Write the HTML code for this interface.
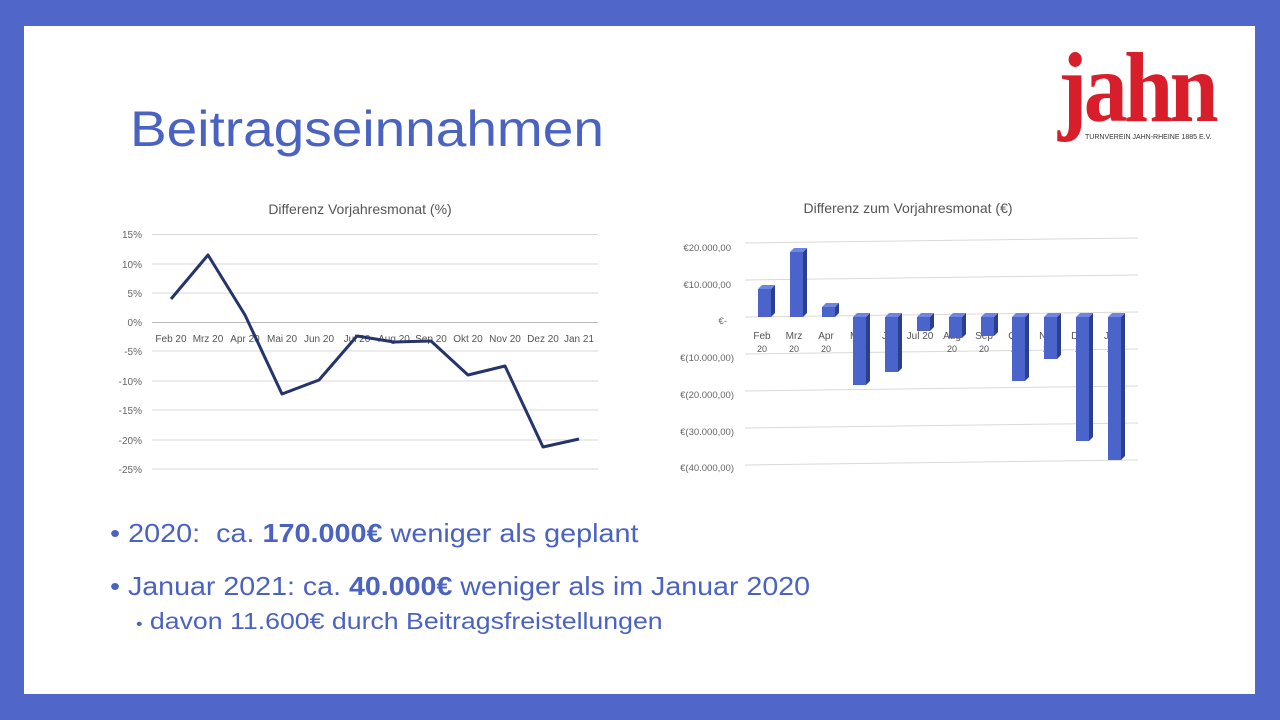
<!DOCTYPE html>
<html><head><meta charset="utf-8"><style>
body{margin:0;width:1280px;height:720px;background:#5067c9;overflow:hidden;font-family:"Liberation Sans",sans-serif}
#w{position:absolute;left:24px;top:26px;width:1231px;height:668px;background:#fff}
.t{position:absolute;color:#4b63c0;white-space:nowrap;transform-origin:left top}
</style></head><body>
<div id="w"></div>
<div class="t" style="left:130px;top:100px;font-size:50px;transform:scaleX(1.1)">Beitragseinnahmen</div>
<div class="t" style="left:1058px;top:38px;font-size:100px;line-height:1;font-family:'Liberation Serif',serif;font-weight:bold;color:#d81e2a;letter-spacing:-4px;transform:scaleX(0.88)">jahn</div>
<div class="t" style="left:1085px;top:134px;font-size:7px;color:#333">TURNVEREIN JAHN-RHEINE 1885 E.V.</div>
<div class="t" style="left:110px;top:518px;font-size:26px;transform:scaleX(1.107)">• 2020:&nbsp; ca. <b>170.000€</b> weniger als geplant</div>
<div class="t" style="left:110px;top:571px;font-size:26px;transform:scaleX(1.1)">• Januar 2021: ca. <b>40.000€</b> weniger als im Januar 2020</div>
<div class="t" style="left:136px;top:608px;font-size:23px;transform:scaleX(1.16)"><span style="font-size:16px">•</span> davon 11.600€ durch Beitragsfreistellungen</div>
<svg width="1280" height="720" style="position:absolute;left:0;top:0" font-family="Liberation Sans, sans-serif">
<text x="360" y="214" font-size="14" fill="#555" text-anchor="middle">Differenz Vorjahresmonat (%)</text>
<g stroke="#d9d9d9" stroke-width="1">
<line x1="152" x2="598" y1="234.5" y2="234.5"/><line x1="152" x2="598" y1="264" y2="264"/><line x1="152" x2="598" y1="293" y2="293"/>
<line x1="152" x2="598" y1="351" y2="351"/><line x1="152" x2="598" y1="381" y2="381"/><line x1="152" x2="598" y1="410" y2="410"/><line x1="152" x2="598" y1="440" y2="440"/><line x1="152" x2="598" y1="469" y2="469"/>
<line x1="152" x2="598" y1="322.5" y2="322.5" stroke="#bbb"/>
</g>
<g font-size="10" fill="#666" text-anchor="end">
<text x="142" y="238">15%</text><text x="142" y="268">10%</text><text x="142" y="297">5%</text><text x="142" y="326">0%</text><text x="142" y="355">-5%</text><text x="142" y="385">-10%</text><text x="142" y="414">-15%</text><text x="142" y="444">-20%</text><text x="142" y="473">-25%</text>
</g>
<g font-size="10" fill="#555" text-anchor="middle">
<text x="171" y="342">Feb 20</text><text x="208" y="342">Mrz 20</text><text x="245" y="342">Apr 20</text><text x="282" y="342">Mai 20</text><text x="319" y="342">Jun 20</text><text x="357" y="342">Jul 20</text><text x="394" y="342">Aug 20</text><text x="431" y="342">Sep 20</text><text x="468" y="342">Okt 20</text><text x="505" y="342">Nov 20</text><text x="543" y="342">Dez 20</text><text x="579" y="342">Jan 21</text>
</g>
<polyline fill="none" stroke="#25346b" stroke-width="3" stroke-linejoin="round" points="171,299 208,255 245,315 282,394 319,380 357,336 394,342 431,341 468,375 505,366 543,447 579,439"/>

<text x="908" y="213" font-size="14" fill="#555" text-anchor="middle">Differenz zum Vorjahresmonat (€)</text>
<g stroke="#d9d9d9" stroke-width="1">
<line x1="745" x2="1138" y1="243" y2="238"/><line x1="745" x2="1138" y1="280" y2="275"/><line x1="745" x2="1138" y1="317" y2="312"/><line x1="745" x2="1138" y1="354" y2="349"/><line x1="745" x2="1138" y1="391" y2="386"/><line x1="745" x2="1138" y1="428" y2="423"/><line x1="745" x2="1138" y1="465" y2="460"/>
</g>
<g font-size="9.5" fill="#666" text-anchor="end">
<text x="731" y="251">€20.000,00</text><text x="731" y="288">€10.000,00</text><text x="727" y="324">€-</text><text x="734" y="361">€(10.000,00)</text><text x="734" y="398">€(20.000,00)</text><text x="734" y="435">€(30.000,00)</text><text x="734" y="471">€(40.000,00)</text>
</g>
<g font-size="10" fill="#555" text-anchor="middle">
<text x="762" y="339">Feb</text><text x="762" y="352" font-size="9">20</text>
<text x="794" y="339">Mrz</text><text x="794" y="352" font-size="9">20</text>
<text x="826" y="339">Apr</text><text x="826" y="352" font-size="9">20</text>
<text x="858" y="339">Mai</text><text x="858" y="352" font-size="9">20</text>
<text x="890" y="339">Jun</text><text x="890" y="352" font-size="9">20</text>
<text x="920" y="339">Jul 20</text>
<text x="952" y="339">Aug</text><text x="952" y="352" font-size="9">20</text>
<text x="984" y="339">Sep</text><text x="984" y="352" font-size="9">20</text>
<text x="1016" y="339">Okt</text><text x="1016" y="352" font-size="9">20</text>
<text x="1048" y="339">Nov</text><text x="1048" y="352" font-size="9">20</text>
<text x="1080" y="339">Dez</text><text x="1080" y="352" font-size="9">20</text>
<text x="1112" y="339">Jan</text><text x="1112" y="352" font-size="9">21</text>
</g>
<g>
<polygon points="771,289 775,285 775,313 771,317" fill="#2c3f8e"/><polygon points="758,289 762,285 775,285 771,289" fill="#6f86e0"/><rect x="758" y="289" width="13" height="28" fill="#4a64cc"/>
<polygon points="803,252 807,248 807,313 803,317" fill="#2c3f8e"/><polygon points="790,252 794,248 807,248 803,252" fill="#6f86e0"/><rect x="790" y="252" width="13" height="65" fill="#4a64cc"/>
<polygon points="835,307 839,303 839,313 835,317" fill="#2c3f8e"/><polygon points="822,307 826,303 839,303 835,307" fill="#6f86e0"/><rect x="822" y="307" width="13" height="10" fill="#4a64cc"/>
<polygon points="866,317 870,313 870,381 866,385" fill="#2c3f8e"/><polygon points="853,317 857,313 870,313 866,317" fill="#6f86e0"/><rect x="853" y="317" width="13" height="68" fill="#4a64cc"/>
<polygon points="898,317 902,313 902,368 898,372" fill="#2c3f8e"/><polygon points="885,317 889,313 902,313 898,317" fill="#6f86e0"/><rect x="885" y="317" width="13" height="55" fill="#4a64cc"/>
<polygon points="930,317 934,313 934,327 930,331" fill="#2c3f8e"/><polygon points="917,317 921,313 934,313 930,317" fill="#6f86e0"/><rect x="917" y="317" width="13" height="14" fill="#4a64cc"/>
<polygon points="962,317 966,313 966,334 962,338" fill="#2c3f8e"/><polygon points="949,317 953,313 966,313 962,317" fill="#6f86e0"/><rect x="949" y="317" width="13" height="21" fill="#4a64cc"/>
<polygon points="994,317 998,313 998,332 994,336" fill="#2c3f8e"/><polygon points="981,317 985,313 998,313 994,317" fill="#6f86e0"/><rect x="981" y="317" width="13" height="19" fill="#4a64cc"/>
<polygon points="1025,317 1029,313 1029,377 1025,381" fill="#2c3f8e"/><polygon points="1012,317 1016,313 1029,313 1025,317" fill="#6f86e0"/><rect x="1012" y="317" width="13" height="64" fill="#4a64cc"/>
<polygon points="1057,317 1061,313 1061,355 1057,359" fill="#2c3f8e"/><polygon points="1044,317 1048,313 1061,313 1057,317" fill="#6f86e0"/><rect x="1044" y="317" width="13" height="42" fill="#4a64cc"/>
<polygon points="1089,317 1093,313 1093,437 1089,441" fill="#2c3f8e"/><polygon points="1076,317 1080,313 1093,313 1089,317" fill="#6f86e0"/><rect x="1076" y="317" width="13" height="124" fill="#4a64cc"/>
<polygon points="1121,317 1125,313 1125,456 1121,460" fill="#2c3f8e"/><polygon points="1108,317 1112,313 1125,313 1121,317" fill="#6f86e0"/><rect x="1108" y="317" width="13" height="143" fill="#4a64cc"/>
</g>
</svg>
</body></html>
